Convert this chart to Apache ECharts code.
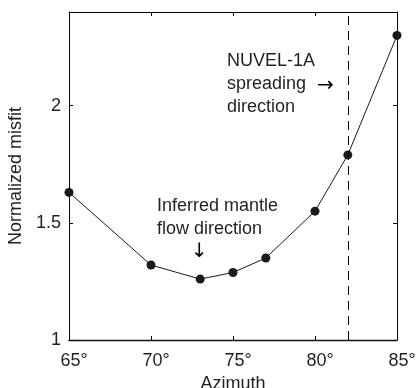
<!DOCTYPE html>
<html><head><meta charset="utf-8">
<script src="https://cdn.jsdelivr.net/npm/echarts@6/dist/echarts.min.js"></script>
<style>html,body{margin:0;padding:0;background:#fff}#c{width:418px;height:388px}</style>
</head><body><div id="c"></div>
<script>
const azimuth = [65, 70, 73, 75, 77, 80, 82, 85];
const misfit = [1.63, 1.32, 1.26, 1.288, 1.35, 1.55, 1.79, 2.30];
const xTicks = [65, 70, 75, 80, 85];
const yTicks = [1, 1.5, 2];
const nuvelAzimuth = 82;
const FONT = '"Liberation Sans", Arial, Helvetica, sans-serif';
const TXT = '#231f20';

const chart = echarts.init(document.getElementById('c'));
const axisCommon = {
  type: 'value',
  axisLine: {show: true, onZero: false, lineStyle: {color: '#000', width: 1}},
  axisTick: {show: true, inside: true, length: 4, lineStyle: {color: '#000'}},
  splitLine: {show: false}
};
chart.setOption({
  animation: false,
  grid: {left: 69, right: 21, top: 12, bottom: 48, containLabel: false, outerBoundsMode: 'none'},
  xAxis: [
    Object.assign({}, axisCommon, {
      min: 65, max: 85, interval: 5, position: 'bottom',
      axisLine: {show: true, onZero: false, lineStyle: {color: '#111', width: 1.3}},
      name: 'Azimuth', nameLocation: 'middle', nameGap: 30,
      nameTextStyle: {fontFamily: FONT, fontSize: 18, color: TXT},
      axisLabel: {fontFamily: FONT, fontSize: 18, color: TXT, margin: 12, padding: [0, 0, 0, 10],
        formatter: v => xTicks.includes(v) ? v + '°' : ''}
    }),
    Object.assign({}, axisCommon, {
      min: 65, max: 85, interval: 5, position: 'top', axisLabel: {show: false}
    })
  ],
  yAxis: [
    Object.assign({}, axisCommon, {
      min: 1, max: 2.4, interval: 0.5, position: 'left',
      name: 'Normalized misfit', nameLocation: 'middle', nameGap: 42,
      nameTextStyle: {fontFamily: FONT, fontSize: 18, color: TXT},
      axisLabel: {fontFamily: FONT, fontSize: 18, color: TXT, margin: 8,
        formatter: v => yTicks.includes(v) ? String(v) : ''}
    }),
    Object.assign({}, axisCommon, {
      min: 1, max: 2.4, interval: 0.5, position: 'right', axisLabel: {show: false}
    })
  ],
  series: [{
    type: 'line',
    data: azimuth.map((a, i) => [a, misfit[i]]),
    symbol: 'circle', symbolSize: 9,
    itemStyle: {color: '#1a1a1a'},
    lineStyle: {color: '#1a1a1a', width: 1},
    markLine: {
      silent: true, symbol: 'none', label: {show: false},
      lineStyle: {color: '#000', width: 1, type: [9, 6]},
      data: [{xAxis: nuvelAzimuth}]
    },
    z: 3
  }],
  graphic: [
    {type: 'text', left: 227, top: 50, style: {text: 'NUVEL-1A\nspreading\ndirection', font: '18px ' + FONT, fill: TXT, lineHeight: 23}},
    {type: 'text', left: 317, top: 76, style: {text: '→', font: '20px "DejaVu Sans"', fill: '#000'}},
    {type: 'text', left: 157, top: 195, style: {text: 'Inferred mantle\nflow direction', font: '18px ' + FONT, fill: TXT, lineHeight: 23}},
    {type: 'text', left: 191, top: 242, style: {text: '↓', font: '20px "DejaVu Sans"', fill: '#000'}}
  ]
});
</script></body></html>
